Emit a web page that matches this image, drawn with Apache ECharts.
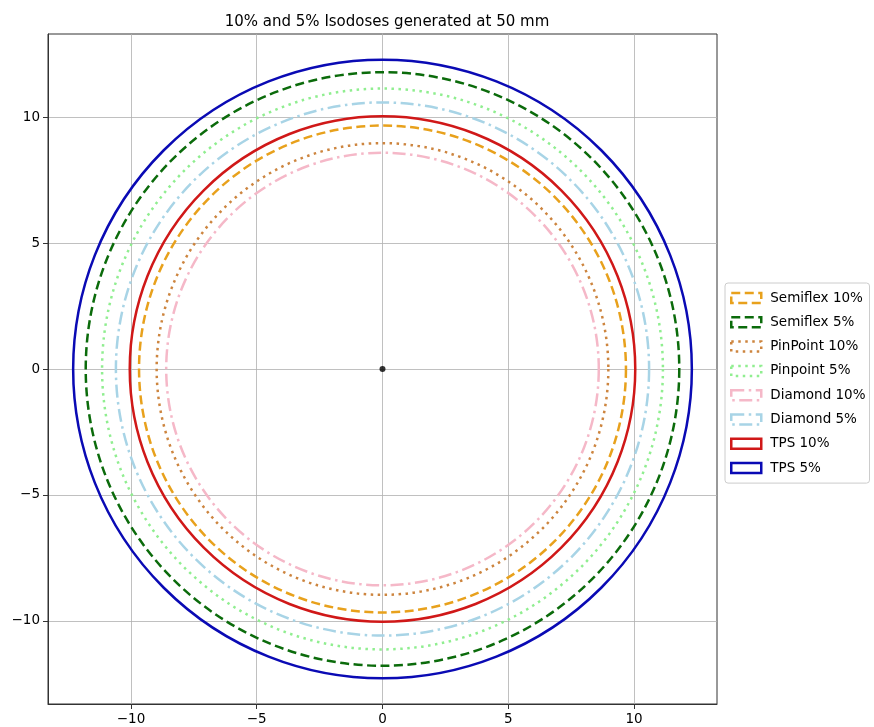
<!DOCTYPE html>
<html>
<head>
<meta charset="utf-8">
<script src="https://cdn.jsdelivr.net/npm/echarts@6/dist/echarts.min.js"></script>
<style>html,body{margin:0;padding:0;background:#fff}#c{width:874px;height:727px}</style>
</head>
<body>
<div id="c"></div>
<script>
const names = ['Semiflex 10%','Semiflex 5%','PinPoint 10%','Pinpoint 5%','Diamond 10%','Diamond 5%','TPS 10%','TPS 5%'];
const radii = [9.68, 11.8, 8.98, 11.15, 8.6, 10.6, 10.05, 12.3];
const colors = ['#e8a11c','#0b6b0b','#cd853f','#90ee90','#f5b8c8','#a8d4e6','#d01818','#0a0ab4'];
const dashes = ['dashed','dashed','dotted','dotted','dashdot','dashdot','solid','solid'];
const tickValues = [-10,-5,0,5,10];
const axisMin = -13.3, axisMax = 13.3;
const center = [[0,0]];

const dashMap = {solid:null, dashed:[9,4.5], dotted:[2.5,4.5], dashdot:[13,4.5,2.5,4.5]};
const lw = 2.5;
const fmt = v => String(v).replace('-', '\u2212');

const series = names.map((n,i)=>({
  name:n, type:'custom', coordinateSystem:'cartesian2d',
  data:[[0,0,radii[i]]], encode:{x:0,y:1}, silent:true,
  renderItem:(params, api)=>{
    const c = api.coord([api.value(0), api.value(1)]);
    const r = api.size([api.value(2), 0])[0];
    return {type:'circle', shape:{cx:c[0], cy:c[1], r:r},
      style:{fill:'none', stroke:colors[i], lineWidth:lw, lineDash:dashMap[dashes[i]]}};
  }
}));
series.push({type:'scatter', data:center, symbolSize:6, itemStyle:{color:'#000'}, silent:true, z:10});

const axisCommon = {
  type:'value', min:axisMin, max:axisMax,
  axisLine:{show:true, onZero:false, lineStyle:{color:'#333', width:1}},
  axisTick:{show:true, length:5, customValues:tickValues, lineStyle:{color:'#333'}},
  axisLabel:{customValues:tickValues, formatter:fmt, color:'#000', fontSize:13.5, fontFamily:'DejaVu Sans', margin:8},
  splitLine:{show:true, lineStyle:{color:'#b0b0b0', width:0.8}}
};

const chart = echarts.init(document.getElementById('c'));
chart.setOption({
  animation:false,
  title:{text:'10% and 5% Isodoses generated at 50 mm', left:382, top:10, textAlign:'center',
    textStyle:{fontFamily:'DejaVu Sans', fontSize:15, fontWeight:'normal', color:'#000'}},
  grid:{left:48, right:157, top:34, bottom:23, show:true, borderColor:'#333', borderWidth:1},
  xAxis:axisCommon,
  yAxis:axisCommon,
  legend:{
    orient:'vertical', left:725, top:283, itemWidth:30, itemHeight:10, itemGap:10.3,
    padding:[8,4,8,5], borderColor:'#ccc', borderWidth:1, borderRadius:3,
    textStyle:{fontFamily:'DejaVu Sans', fontSize:13.5, color:'#000', padding:[0,0,0,4]},
    data:names.map((n,i)=>({name:n, icon:'rect',
      itemStyle:{color:'rgba(0,0,0,0)', borderColor:colors[i], borderWidth:lw, borderType:dashMap[dashes[i]]||'solid'}}))
  },
  series:series
});
</script>
</body>
</html>
